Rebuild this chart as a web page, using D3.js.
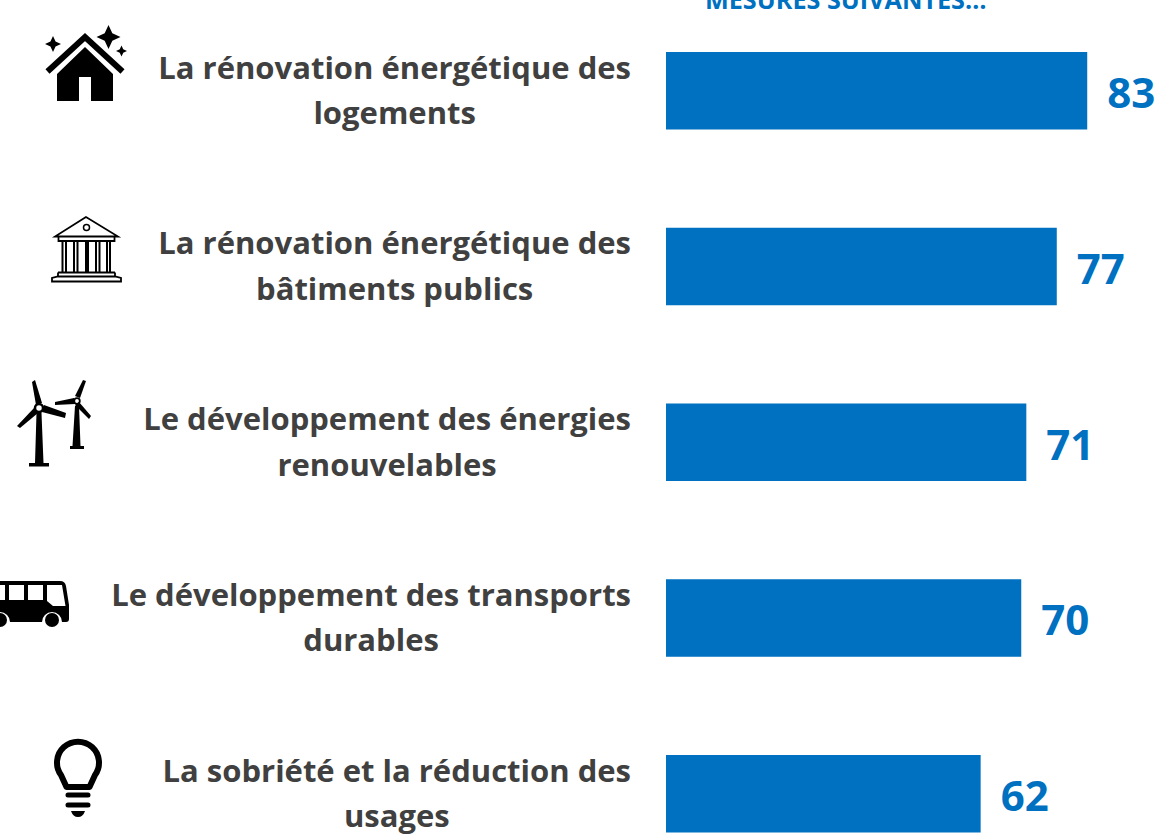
<!DOCTYPE html>
<html><head><meta charset="utf-8">
<script src="https://cdnjs.cloudflare.com/ajax/libs/d3/7.8.5/d3.min.js"></script>
<style>html,body{margin:0;padding:0;background:#fff;overflow:hidden}svg{display:block}
text{font-family:"Open Sans",sans-serif;font-weight:700}</style></head><body>
<div id="chart"></div>
<script>
const categories = ["La rénovation énergétique des logements","La rénovation énergétique des bâtiments publics","Le développement des énergies renouvelables","Le développement des transports durables","La sobriété et la réduction des usages"];
const firstLines = ["La rénovation énergétique des","La rénovation énergétique des","Le développement des énergies","Le développement des transports","La sobriété et la réduction des"];
const secondLines = ["logements","bâtiments publics","renouvelables","durables","usages"];
const values = [83,77,71,70,62];
const iconNames = ["house","bank","wind","bus","bulb"];
const titleText = "MESURES SUIVANTES…";
const blue = "#0070C0", grey = "#404040", LABEL_SIZE = 31, VALUE_SIZE = 42;

const svg = d3.select("#chart").append("svg").attr("width",1159).attr("height",836);
const x = d3.scaleLinear().domain([0,100]).range([666,1173.5]);
// bars are ~77.5 tall and repeat every ~175.75 px
const y = d3.scaleBand().domain(categories).range([52, 52+77.5+4*175.75]).paddingInner(1-77.5/175.75).paddingOuter(0);

svg.append("text").attr("x",705).attr("y",9).attr("fill",blue).attr("font-size",25.2).text(titleText);

const rows = svg.selectAll("g.row").data(categories).join("g").attr("class","row");
rows.append("rect").attr("x",x(0)).attr("y",d=>y(d)).attr("height",y.bandwidth())
  .attr("width",(d,i)=>x(values[i])-x(0)).attr("fill",blue);
rows.append("text").attr("x",(d,i)=>x(values[i])+20).attr("y",d=>y(d)+56).attr("fill",blue)
  .attr("font-size",VALUE_SIZE).text((d,i)=>values[i]);
rows.each(function(d,i){
  const g = d3.select(this), top = y(d);
  const t1 = g.append("text").attr("x",631).attr("y",top+26.5).attr("text-anchor","end").attr("fill",grey).attr("font-size",LABEL_SIZE).text(firstLines[i]);
  const w = t1.node().getComputedTextLength();
  g.append("text").attr("x",631-w/2).attr("y",top+72).attr("text-anchor","middle").attr("fill",grey).attr("font-size",LABEL_SIZE).text(secondLines[i]);
});

// pictograms
const star=(cx,cy,r)=>{const k=r*.32;return `M${cx},${cy-r}L${cx+k},${cy-k}L${cx+r},${cy}L${cx+k},${cy+k}L${cx},${cy+r}L${cx-k},${cy+k}L${cx-r},${cy}L${cx-k},${cy-k}Z`;};
const icons = {
 house(g){
  g.append("path").attr("d","M57,101V74L85,47L113,74V101H91V77H79V101Z");
  g.append("path").attr("d","M47.5,71.5L85,37L122.5,71.5").attr("fill","none").attr("stroke","#000").attr("stroke-width",6);
  g.append("path").attr("d",star(53,44,8)+star(108.5,37,12)+star(121.5,51,5.5));
 },
 bank(g){
  const s=(d,w)=>g.append("path").attr("d",d).attr("fill","none").attr("stroke","#000").attr("stroke-width",w);
  s("M86,217L55,236.5H118Z",1.8);
  s("M58.5,237V241H114.5V237",1.8);
  g.append("circle").attr("cx",86.5).attr("cy",227.5).attr("r",3).attr("fill","none").attr("stroke","#000").attr("stroke-width",1.5);
  [62.5,66,74,77.5,86,88,96,99.5,107,110].forEach(c=>s(`M${c},241V272`,2));
  s("M58,272.5H115",2);
  s("M58,272.5V277M115,272.5V277",1.8);
  s("M52,281.5V278L58,276.5H115L121,278V281.5Z",1.8);
 },
 wind(g){
  g.append("path").attr("d","M36.5,413L41.5,413L43.5,463H49V466.5H29V463H35Z");
  g.append("path").attr("d","M32,382L35,380L42,403L36,405Z");
  g.append("path").attr("d","M44,405L66,413L65,418L42,412Z");
  g.append("path").attr("d","M34,408L38,413L20,428L17,426Z");
  g.append("circle").attr("cx",39).attr("cy",408).attr("r",4).attr("fill","none").attr("stroke","#000").attr("stroke-width",2.5);
  g.append("path").attr("d","M75,406L79,406L80.5,446H84V449H70V446H72.5Z");
  g.append("path").attr("d","M83,380L86,381L80,398L75,396Z");
  g.append("path").attr("d","M74,398L75,404L55,405L55,402Z");
  g.append("path").attr("d","M79,402L91,416L89,419L75,405Z");
  g.append("circle").attr("cx",77).attr("cy",401).attr("r",2.8).attr("fill","none").attr("stroke","#000").attr("stroke-width",1.8);
 },
 bus(g){
  g.append("path").attr("d","M-5,581H60Q65,581 66,586L69,605V619Q69,622 66,622H62A10,10 0 0 0 42,622H10A10,10 0 0 0 -10,622H-5Z");
  g.append("path").attr("d","M-1,585H5V600H-1ZM9,585H24V600H9ZM28,585H43V600H28ZM47,585H62L65.5,606H53L47,601Z").attr("fill","#fff");
  [0,52].forEach(c=>g.append("circle").attr("cx",c).attr("cy",620).attr("r",7));
 },
 bulb(g){
  g.append("path").attr("d","M66.5,787L61,775A21,21 0 1 1 95,775L89.5,787Z").attr("fill","none").attr("stroke","#000").attr("stroke-width",6).attr("stroke-linejoin","round");
  g.append("path").attr("d","M68,795H88M68,805H88").attr("fill","none").attr("stroke","#000").attr("stroke-width",5).attr("stroke-linecap","round");
  g.append("path").attr("d","M71,811H85Q83,817 78,817Q73,817 71,811Z");
 }
};
svg.selectAll("g.icon").data(iconNames).join("g").attr("class","icon").each(function(n){icons[n](d3.select(this));});
</script></body></html>
